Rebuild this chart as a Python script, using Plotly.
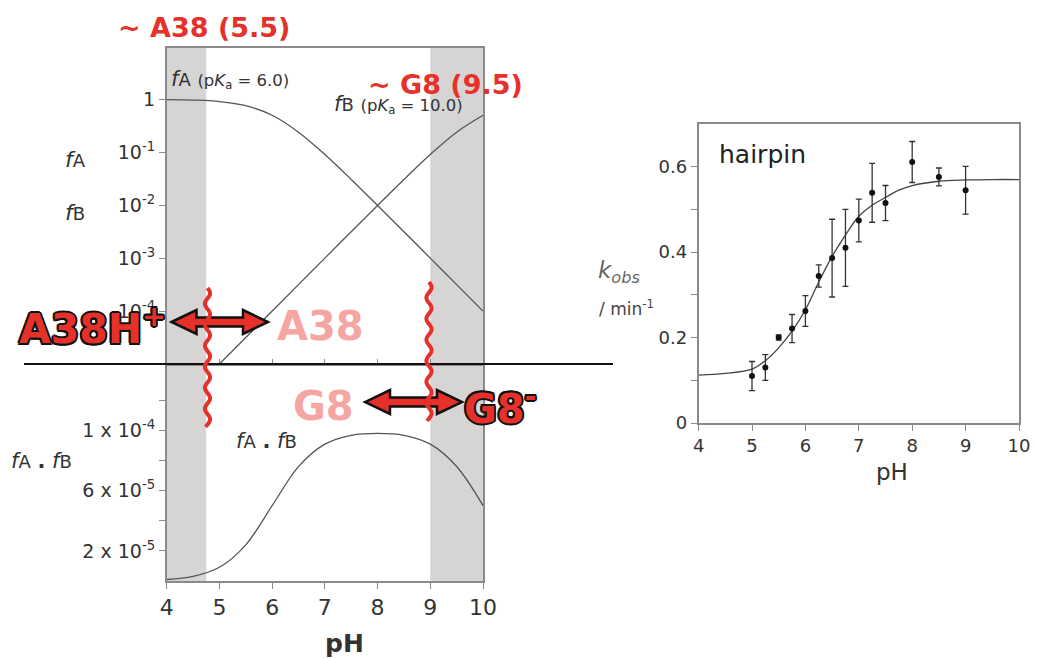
import math
import plotly.graph_objects as go

W, H = 1037, 659
FONT = "DejaVu Sans, Liberation Sans, Arial, sans-serif"
RED = "#e5312a"
PINK = "#f5a6a2"
GRAYLINE = "#8a8a8a"
TXT = "#333333"

# ---------------- data ----------------
ph_theory = [4, 4.5, 5, 5.5, 6, 6.5, 7, 7.5, 8, 8.5, 9, 9.5, 10]
f_A = [0.990, 0.969, 0.909, 0.760, 0.500, 0.240, 0.0909, 0.0307, 0.0099,
       0.00315, 0.00100, 0.000316, 0.000100]
ph_fB = [5, 5.5, 6, 6.5, 7, 7.5, 8, 8.5, 9, 9.5, 10]
f_B = [1.0e-5, 3.16e-5, 1.0e-4, 3.16e-4, 1.0e-3, 3.15e-3, 9.9e-3, 0.0307,
       0.0909, 0.240, 0.500]
f_AB = [0.99e-6, 3.06e-6, 9.09e-6, 2.40e-5, 5.00e-5, 7.59e-5, 9.08e-5,
        9.67e-5, 9.80e-5, 9.67e-5, 9.08e-5, 7.60e-5, 5.00e-5]
shade_ranges = [(4, 4.75), (9, 10)]

log_tickvals = [1, 0.1, 0.01, 0.001, 0.0001]
log_ticktext = ["1", "10<sup>-1</sup>", "10<sup>-2</sup>", "10<sup>-3</sup>", "10<sup>-4</sup>"]
lin_tickvals = [2e-5, 4e-5, 6e-5, 8e-5, 1e-4, 1.2e-4]
lin_ticktext = ["2 x 10<sup>-5</sup>", "", "6 x 10<sup>-5</sup>", "", "1 x 10<sup>-4</sup>", ""]
ph_ticks = [4, 5, 6, 7, 8, 9, 10]

ph_obs = [5, 5.25, 5.5, 5.75, 6, 6.25, 6.5, 6.75, 7, 7.25, 7.5, 8, 8.5, 9]
k_obs = [0.110, 0.130, 0.200, 0.221, 0.262, 0.344, 0.386, 0.410, 0.474,
         0.539, 0.515, 0.611, 0.576, 0.545]
k_err = [0.034, 0.030, 0.006, 0.033, 0.036, 0.026, 0.091, 0.090, 0.050,
         0.069, 0.041, 0.048, 0.021, 0.056]
fit_ph = [4, 4.5, 5, 5.25, 5.5, 5.75, 6, 6.25, 6.5, 6.75, 7, 7.25, 7.5, 7.75,
          8, 8.5, 9, 9.5, 10]
fit_k = [0.112, 0.116, 0.126, 0.146, 0.176, 0.215, 0.265, 0.330, 0.390, 0.440,
         0.484, 0.510, 0.528, 0.545, 0.556, 0.566, 0.569, 0.570, 0.570]
k_tickvals = [0, 0.1, 0.2, 0.3, 0.4, 0.5, 0.6]
k_ticktext = ["0", "", "0.2", "", "0.4", "", "0.6"]


def px(x):
    return x / W


def py(y):
    return 1 - y / H


# layout geometry (pixels)
LX0, LX1 = 166.7, 483.0
TOP_Y0, MID_Y, BOT_Y1 = 48.0, 364.0, 581.0
RX0, RX1, RY0, RY1 = 698.6, 1019.0, 124.0, 423.0

fig = go.Figure()

line_style = dict(color="#555555", width=1.3)
fig.add_trace(go.Scatter(x=ph_theory, y=f_A, mode="lines", line=dict(shape="spline", **line_style),
                         xaxis="x", yaxis="y", showlegend=False, hoverinfo="skip"))
fig.add_trace(go.Scatter(x=ph_fB, y=f_B, mode="lines", line=dict(shape="spline", **line_style),
                         xaxis="x", yaxis="y", showlegend=False, hoverinfo="skip"))
fig.add_trace(go.Scatter(x=ph_theory, y=f_AB, mode="lines", line=dict(shape="spline", **line_style),
                         xaxis="x2", yaxis="y2", showlegend=False, hoverinfo="skip"))

fig.add_trace(go.Scatter(x=fit_ph, y=fit_k, mode="lines",
                         line=dict(color="#444444", width=1.3, shape="spline"),
                         xaxis="x3", yaxis="y3", showlegend=False, hoverinfo="skip"))
fig.add_trace(go.Scatter(x=ph_obs, y=k_obs, mode="markers",
                         marker=dict(color="#111111", size=6),
                         error_y=dict(type="data", array=k_err, color="#333333",
                                      thickness=1.3, width=3),
                         xaxis="x3", yaxis="y3", showlegend=False, hoverinfo="skip"))

tickfont_l = dict(family=FONT, size=19, color=TXT)
axis_common = dict(showgrid=False, zeroline=False, automargin=False,
                   linecolor=GRAYLINE, linewidth=1.5, tickcolor=GRAYLINE)

shapes = []
for (a, b) in shade_ranges:
    shapes.append(dict(type="rect", xref="x2", yref="paper", x0=a, x1=b,
                       y0=py(BOT_Y1), y1=py(TOP_Y0), fillcolor="#d7d5d4",
                       line=dict(width=0), layer="below"))

# black separating line
shapes.append(dict(type="line", xref="paper", yref="paper", x0=px(24), x1=px(613),
                   y0=py(MID_Y), y1=py(MID_Y), line=dict(color="#111111", width=2)))


def arrow_path(xl, xr, yc, hl=25, hh=12, sh=4.5):
    pts = [(xl, yc), (xl + hl, yc - hh), (xl + hl, yc - sh), (xr - hl, yc - sh),
           (xr - hl, yc - hh), (xr, yc), (xr - hl, yc + hh), (xr - hl, yc + sh),
           (xl + hl, yc + sh), (xl + hl, yc + hh)]
    s = "M " + " L ".join(f"{px(x):.5f},{py(y):.5f}" for x, y in pts) + " Z"
    return s


for (xl, xr, yc) in [(171.5, 268, 322), (365, 462, 402)]:
    shapes.append(dict(type="path", xref="paper", yref="paper", path=arrow_path(xl, xr, yc),
                       fillcolor=RED, line=dict(color="#111111", width=2.5)))


def wavy_path(xc, y0, y1, amp=2.6, lam=21.0):
    n = int((y1 - y0) / 1.5)
    pts = []
    for i in range(n + 1):
        y = y0 + (y1 - y0) * i / n
        x = xc + amp * math.sin(2 * math.pi * (y - y0) / lam)
        pts.append((x, y))
    return "M " + " L ".join(f"{px(x):.5f},{py(y):.5f}" for x, y in pts)


for (xc, y0, y1) in [(207.5, 288, 427), (429, 282, 421)]:
    shapes.append(dict(type="path", xref="paper", yref="paper", path=wavy_path(xc, y0, y1),
                       line=dict(color=RED, width=4)))

outline = ("-1.5px -1.5px 0 #111, 1.5px -1.5px 0 #111, -1.5px 1.5px 0 #111, 1.5px 1.5px 0 #111, "
           "0 2px 0 #111, 0 -2px 0 #111, 2px 0 0 #111, -2px 0 0 #111")


def ann(text, x, y, size, color=TXT, xanchor="center", bold=False, shadow=None):
    f = dict(family=FONT, size=size, color=color)
    if bold:
        f["weight"] = "bold"
    if shadow:
        f["shadow"] = shadow
    return dict(text=text, x=px(x), y=py(y), xref="paper", yref="paper",
                xanchor=xanchor, yanchor="middle", showarrow=False, font=f)


def fa(letter, small=18):
    return f"<i>f</i><span style='font-size:{small}px'>{letter}</span>"


annotations = [
    ann("~ A38 (5.5)", 204, 28, 27, RED, bold=True),
    ann("~ G8 (9.5)", 445, 85, 27, RED, bold=True),
    ann(fa("A") + " <span style='font-size:16.5px'>(p<i>K</i><sub>a</sub> = 6.0)</span>",
        169, 80, 21, xanchor="left"),
    ann(fa("B") + " <span style='font-size:16.5px'>(p<i>K</i><sub>a</sub> = 10.0)</span>",
        332, 104, 21, xanchor="left"),
    ann(fa("A"), 63, 160, 22, xanchor="left"),
    ann(fa("B"), 63, 213, 22, xanchor="left"),
    ann(fa("A") + " <b>.</b> " + fa("B"), 234, 441, 21, xanchor="left"),
    ann(fa("A") + " <b>.</b> " + fa("B"), 9, 461, 21, xanchor="left"),
    ann("A38H<sup>+</sup>", 92, 326, 41, RED, bold=True, shadow=outline),
    ann("A38", 320, 326, 40, PINK, bold=True),
    ann("G8", 323, 406, 40, PINK, bold=True),
    ann("G8<sup>-</sup>", 500, 406, 40, RED, bold=True, shadow=outline),
    ann("<b>pH</b>", 344, 643, 25),
    ann("hairpin", 717, 155, 25, xanchor="left", color="#222222"),
    ann("<i>k<sub>obs</sub></i>", 596, 272, 23, xanchor="left", color="#666666"),
    ann("/ min<sup>-1</sup>", 597, 308, 17, xanchor="left", color="#444444"),
    ann("pH", 892, 472, 23, color="#333333"),
]

fig.update_layout(
    width=W, height=H, margin=dict(l=0, r=0, t=0, b=0),
    paper_bgcolor="white", plot_bgcolor="rgba(0,0,0,0)",
    font=dict(family=FONT, color=TXT),
    xaxis=dict(domain=[px(LX0), px(LX1)], range=[4, 10], anchor="y",
               showticklabels=False, ticks="inside", ticklen=5, tickvals=ph_ticks,
               showline=True, mirror=True, **axis_common),
    yaxis=dict(domain=[py(MID_Y), py(TOP_Y0)], type="log", range=[-5, 0.97], anchor="x",
               tickvals=log_tickvals, ticktext=log_ticktext, ticks="outside", ticklen=6,
               tickfont=tickfont_l, showline=True, mirror=True, **axis_common),
    xaxis2=dict(domain=[px(LX0), px(LX1)], range=[4, 10], anchor="y2",
                tickvals=ph_ticks, ticks="outside", ticklen=6,
                tickfont=dict(family=FONT, size=22, color=TXT),
                showline=True, mirror=False, **axis_common),
    yaxis2=dict(domain=[py(BOT_Y1), py(MID_Y)], range=[0, 1.44e-4], anchor="x2",
                tickvals=lin_tickvals, ticktext=lin_ticktext, ticks="outside", ticklen=6,
                tickfont=tickfont_l, showline=True, mirror=True, **axis_common),
    xaxis3=dict(domain=[px(RX0), px(RX1)], range=[4, 10], anchor="y3",
                tickvals=ph_ticks, ticks="outside", ticklen=6,
                tickfont=dict(family=FONT, size=18, color=TXT),
                showline=True, mirror=True, **axis_common),
    yaxis3=dict(domain=[py(RY1), py(RY0)], range=[0, 0.7], anchor="x3",
                tickvals=k_tickvals, ticktext=k_ticktext, ticks="outside", ticklen=6,
                tickfont=dict(family=FONT, size=18, color=TXT),
                showline=True, mirror=True, **axis_common),
    shapes=shapes,
    annotations=annotations,
)

fig.write_html("out.html")
